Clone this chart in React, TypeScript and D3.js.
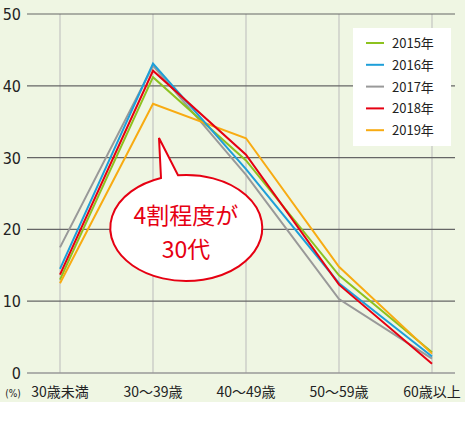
import React from "react";
import * as d3 from "d3";

const categories = ["30歳未満", "30～39歳", "40～49歳", "50～59歳", "60歳以上"];
const years = ["2015年", "2016年", "2017年", "2018年", "2019年"];
const s2015 = [13.0, 41.2, 29.6, 13.6, 2.9];
const s2016 = [14.5, 43.1, 28.4, 12.5, 2.3];
const s2017 = [17.5, 42.8, 27.6, 10.3, 2.0];
const s2018 = [13.7, 42.1, 30.4, 12.3, 1.3];
const s2019 = [12.5, 37.5, 32.7, 14.8, 2.7];
const yTicks = [0, 10, 20, 30, 40, 50];
const colors = ["#8dc21f", "#1e9fd9", "#999999", "#e60012", "#f8ab12"];
const seriesList = [s2015, s2016, s2017, s2018, s2019];
const drawOrder = [2, 0, 4, 1, 3];

export default function App() {
  const W = 465, H = 423;
  const x = d3.scalePoint<string>().domain(categories).range([60, 432]);
  const y = d3.scaleLinear().domain([0, 50]).range([373, 14]);
  const line = d3
    .line<number>()
    .x((_, i) => x(categories[i]) as number)
    .y((d) => y(d));
  const numFont = "'Liberation Sans Narrow', 'DejaVu Sans Condensed', sans-serif";
  const jpFont = "'Noto Sans CJK JP', sans-serif";
  return (
    <svg width={W} height={H} style={{ position: "absolute", left: 0, top: 0 }}>
      <rect x={0} y={0} width={W} height={402} fill="#eff6e3" />
      {categories.map((c) => (
        <line key={c} x1={x(c)} x2={x(c)} y1={y(50)} y2={y(0)} stroke="#bbbbbb" strokeWidth={1} />
      ))}
      {yTicks.map((t) => (
        <g key={t}>
          <line x1={27} x2={455} y1={y(t)} y2={y(t)} stroke={t === 0 ? "#999" : "#666"} strokeWidth={t === 0 ? 1.5 : 1.2} />
          <text x={21} y={y(t) + 6} textAnchor="end" fontFamily={numFont} fontSize={16} fill="#222">
            {t}
          </text>
        </g>
      ))}
      <text x={13} y={397} textAnchor="middle" fontFamily={numFont} fontSize={10} fill="#222">(%)</text>
      {categories.map((c) => (
        <text key={c} x={x(c)} y={397} textAnchor="middle" fontFamily={jpFont} fontSize={14} fill="#222">
          {c}
        </text>
      ))}
      {drawOrder.map((k) => (
        <path key={k} d={line(seriesList[k]) || ""} fill="none" stroke={colors[k]} strokeWidth={2} />
      ))}
      <rect x={353} y={28} width={98} height={118} fill="#ffffff" />
      {years.map((yr, i) => (
        <g key={yr}>
          <line x1={366} x2={384} y1={43 + i * 21.8} y2={43 + i * 21.8} stroke={colors[i]} strokeWidth={2} />
          <text x={392} y={43 + i * 21.8 + 5} fontFamily={jpFont} fontSize={13} fill="#222">
            {yr}
          </text>
        </g>
      ))}
      <path
        d="M 161 178 L 159 138 L 178 175.3 A 76 53 0 1 1 161 178 Z"
        fill="#ffffff"
        stroke="#e60012"
        strokeWidth={2}
      />
      <text x={186} y={224} textAnchor="middle" fontFamily={jpFont} fontSize={23} fill="#e60012">4割程度が</text>
      <text x={186} y={258} textAnchor="middle" fontFamily={jpFont} fontSize={23} fill="#e60012">30代</text>
    </svg>
  );
}
